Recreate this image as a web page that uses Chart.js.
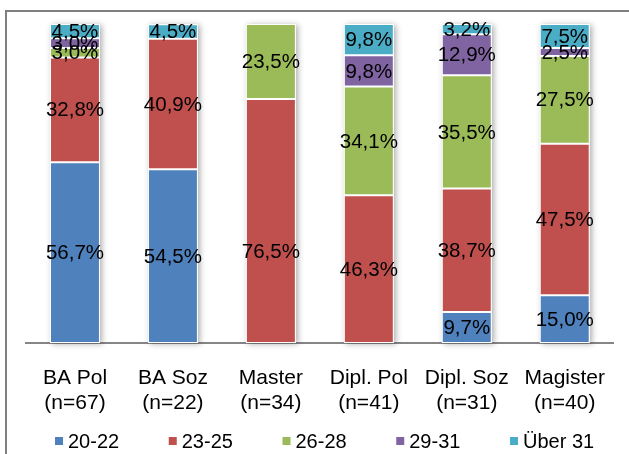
<!DOCTYPE html>
<html>
<head>
<meta charset="utf-8">
<script src="https://cdn.jsdelivr.net/npm/chart.js@4/dist/chart.umd.min.js"></script>
<style>
  html, body { margin: 0; padding: 0; background: #fff; }
  #wrap { width: 629px; height: 454px; position: relative; }
</style>
</head>
<body>
<div id="wrap"><canvas id="c" width="629" height="454"></canvas></div>
<script>
// Study programmes with sample sizes (two-line axis labels)
const categories = [
  ['BA Pol', '(n=67)'],
  ['BA Soz', '(n=22)'],
  ['Master', '(n=34)'],
  ['Dipl. Pol', '(n=41)'],
  ['Dipl. Soz', '(n=31)'],
  ['Magister', '(n=40)']
];
// Age groups
const ageGroups = ['20-22', '23-25', '26-28', '29-31', 'Über 31'];
// Share of each age group per programme, in percent
const age20to22 = [56.7, 54.5, 0, 0, 9.7, 15.0];
const age23to25 = [32.8, 40.9, 76.5, 46.3, 38.7, 47.5];
const age26to28 = [3.0, 0, 23.5, 34.1, 35.5, 27.5];
const age29to31 = [3.0, 0, 0, 9.8, 12.9, 2.5];
const ageOver31 = [4.5, 4.5, 0, 9.8, 3.2, 7.5];

const groupColors = ['#4F81BD', '#C0504D', '#9BBB59', '#8064A2', '#4BACC6'];
const FONT = "'Liberation Sans', Arial, sans-serif";

const series = [age20to22, age23to25, age26to28, age29to31, ageOver31];

// Labels that sit lower than the segment centre (dataset index, category index, px)
const labelNudges = [[1, 2, 30]];

// Grey frame along the top and left edge
const framePlugin = {
  id: 'frame',
  beforeDraw(chart) {
    const ctx = chart.ctx;
    ctx.save();
    ctx.strokeStyle = '#7f7f7f';
    ctx.lineWidth = 2;
    ctx.beginPath();
    ctx.moveTo(6, chart.height);
    ctx.lineTo(6, 11);
    ctx.lineTo(chart.width, 11);
    ctx.stroke();
    ctx.restore();
  }
};

// Soft drop shadow behind each full column stack
const stackShadowPlugin = {
  id: 'stackShadow',
  beforeDatasetsDraw(chart) {
    const ctx = chart.ctx;
    const metas = chart.data.datasets.map((d, i) => chart.getDatasetMeta(i));
    const n = chart.data.labels.length;
    ctx.save();
    ctx.shadowColor = 'rgba(0,0,0,0.32)';
    ctx.shadowBlur = 6;
    ctx.shadowOffsetX = 2;
    ctx.shadowOffsetY = 1;
    ctx.fillStyle = '#ffffff';
    for (let j = 0; j < n; j++) {
      let top = Infinity, bottom = -Infinity, x = 0, w = 0;
      metas.forEach(m => {
        const el = m.data[j];
        if (!el) return;
        top = Math.min(top, el.y, el.base);
        bottom = Math.max(bottom, el.y, el.base);
        x = el.x; w = el.width;
      });
      ctx.fillRect(x - w / 2, top, w, bottom - top);
    }
    ctx.restore();
  }
};

// Percentage labels centred in each segment
const segmentLabelPlugin = {
  id: 'segmentLabels',
  afterDatasetsDraw(chart) {
    const ctx = chart.ctx;
    ctx.save();
    ctx.font = '20.5px ' + FONT;
    ctx.fillStyle = '#000';
    ctx.textAlign = 'center';
    ctx.textBaseline = 'middle';
    chart.data.datasets.forEach((ds, i) => {
      const meta = chart.getDatasetMeta(i);
      meta.data.forEach((el, j) => {
        const v = ds.data[j];
        if (!v) return;
        const nudge = labelNudges.find(n => n[0] === i && n[1] === j);
        const dy = nudge ? nudge[2] : 0;
        const txt = v.toFixed(1).replace('.', ',') + '%';
        ctx.fillText(txt, el.x, (el.y + el.base) / 2 + 1 + dy);
      });
    });
    ctx.restore();
  }
};

// Legend row with evenly spaced entries
const legendRowPlugin = {
  id: 'legendRow',
  afterDraw(chart) {
    const ctx = chart.ctx;
    const startX = 55, pitch = 113.75, cy = 441, box = 8;
    ctx.save();
    ctx.font = '20px ' + FONT;
    ctx.textAlign = 'left';
    ctx.textBaseline = 'middle';
    chart.data.datasets.forEach((ds, i) => {
      const x = startX + i * pitch;
      ctx.fillStyle = ds.backgroundColor;
      ctx.fillRect(x, cy - box / 2, box, box);
      ctx.fillStyle = '#000';
      ctx.fillText(ds.label, x + box + 5, cy + 1);
    });
    ctx.restore();
  }
};

new Chart(document.getElementById('c'), {
  type: 'bar',
  data: {
    labels: categories,
    datasets: ageGroups.map((g, i) => ({
      label: g,
      data: series[i],
      backgroundColor: groupColors[i],
      borderColor: '#ffffff',
      borderWidth: 1,
      borderSkipped: false,
      categoryPercentage: 1,
      barPercentage: 0.51
    }))
  },
  options: {
    responsive: false,
    animation: false,
    devicePixelRatio: 1,
    layout: { padding: { top: 24, left: 26, right: 12, bottom: 15 } },
    plugins: {
      legend: { display: false },
      tooltip: { enabled: false }
    },
    scales: {
      x: {
        stacked: true,
        grid: { drawOnChartArea: false, drawTicks: false },
        border: { display: true, color: '#868686', width: 2 },
        ticks: {
          color: '#000',
          font: { family: FONT, size: 21, lineHeight: 1.19 },
          padding: 23,
          maxRotation: 0,
          autoSkip: false
        }
      },
      y: {
        stacked: true,
        display: false,
        min: 0,
        max: 100
      }
    }
  },
  plugins: [framePlugin, stackShadowPlugin, segmentLabelPlugin, legendRowPlugin]
});
</script>
</body>
</html>
